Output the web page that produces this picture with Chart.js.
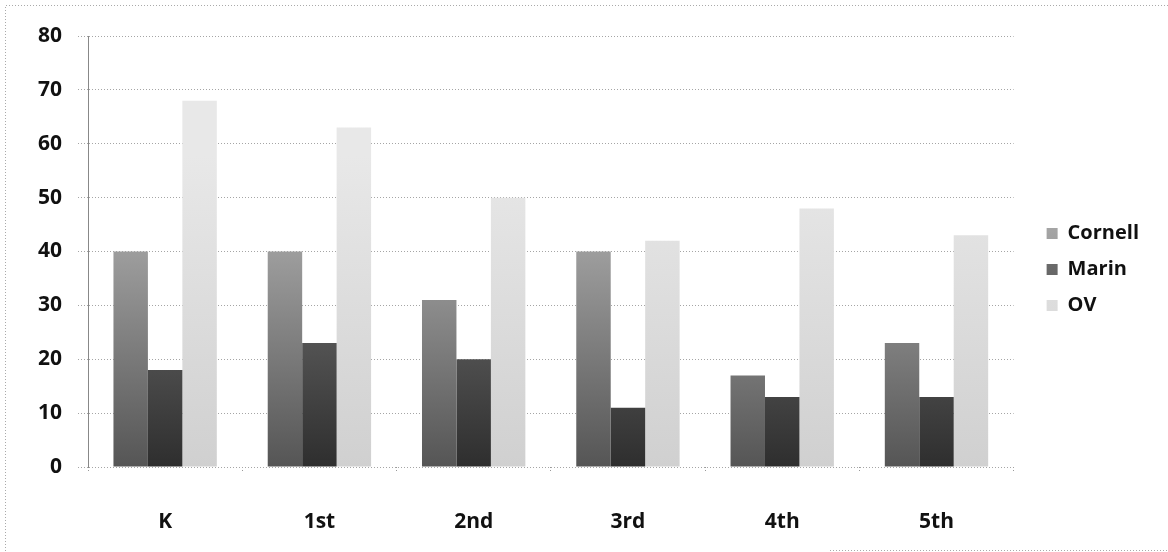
<!DOCTYPE html>
<html>
<head>
<meta charset="utf-8">
<script src="https://cdn.jsdelivr.net/npm/chart.js@4"></script>
<style>
  body { margin: 0; background: #fff; }
  #wrap { width: 1168px; height: 552px; }
</style>
</head>
<body>
<div id="wrap"><canvas id="gradeChart" width="1168" height="552"></canvas></div>
<script>
// values
const grades = ["K", "1st", "2nd", "3rd", "4th", "5th"];
const cornell = [40, 40, 31, 40, 17, 23];
const marin = [18, 23, 20, 11, 13, 13];
const ov = [68, 63, 50, 42, 48, 43];
const yTicks = [0, 10, 20, 30, 40, 50, 60, 70, 80];

// vertical gradient per bar, light at top, dark at bottom
function barGradient(top, bottom) {
  return (c) => {
    const area = c.chart.chartArea;
    if (!area) return bottom;
    const g = c.chart.ctx.createLinearGradient(0, area.top + 120, 0, area.bottom);
    g.addColorStop(0, top);
    g.addColorStop(1, bottom);
    return g;
  };
}

// faint dotted frame like the scanned border
const frame = {
  id: 'frame',
  beforeDraw(chart) {
    const ctx = chart.ctx;
    ctx.save();
    ctx.strokeStyle = '#aaa';
    ctx.setLineDash([1, 2]);
    ctx.lineWidth = 1;
    ctx.beginPath();
    ctx.moveTo(5.5, 551);
    ctx.lineTo(5.5, 5.5);
    ctx.lineTo(1168, 5.5);
    ctx.moveTo(830, 550.5);
    ctx.lineTo(1168, 550.5);
    ctx.stroke();
    ctx.restore();
  }
};

// legend sits a bit above the middle and further right in the original
const legendShift = {
  id: 'legendShift',
  afterLayout(chart) {
    const lg = chart.legend;
    lg.top -= 22;
    lg.bottom -= 22;
    lg.left += 17;
    lg.right += 17;
  }
};

const tickFont = { family: 'Open Sans', size: 21, weight: 'bold' };

const ctx = document.getElementById('gradeChart').getContext('2d');
const gradeChart = new Chart(ctx, {
  type: 'bar',
  data: {
    labels: grades,
    datasets: [
      {
        label: 'Cornell',
        data: cornell,
        backgroundColor: barGradient('#bdbdbd', '#555555')
      },
      {
        label: 'Marin',
        data: marin,
        backgroundColor: barGradient('#8a8a8a', '#2e2e2e')
      },
      {
        label: 'OV',
        data: ov,
        backgroundColor: barGradient('#e8e8e8', '#d0d0d0')
      }
    ]
  },
  options: {
    responsive: false,
    animation: false,
    datasets: {
      bar: { categoryPercentage: 0.67, barPercentage: 1.0 }
    },
    layout: { padding: { top: 36, left: 0, right: 36, bottom: 5 } },
    plugins: {
      tooltip: { enabled: false },
      legend: {
        position: 'right',
        labels: {
          color: '#111',
          font: { family: 'Open Sans', size: 20, weight: 'bold' },
          boxWidth: 11,
          boxHeight: 11,
          padding: 16
        }
      }
    },
    scales: {
      x: {
        afterFit: (axis) => { axis.height = 80; },
        grid: {
          drawOnChartArea: false,
          color: '#999',
          tickLength: 6,
          tickBorderDash: [1, 2]
        },
        border: { display: false },
        ticks: {
          color: '#111',
          padding: 36,
          font: tickFont
        }
      },
      y: {
        min: 0,
        max: 80,
        afterFit: (axis) => { axis.width = 88; },
        afterBuildTicks: (axis) => { axis.ticks = yTicks.map(v => ({ value: v })); },
        grid: { color: '#a5a5a5', tickLength: 10, tickBorderDash: [1, 2] },
        border: { display: true, color: '#888', dash: [1, 2] },
        ticks: {
          color: '#111',
          padding: 16,
          font: tickFont
        }
      }
    }
  },
  plugins: [frame, legendShift]
});

// dotted gridlines
gradeChart.options.scales.y.grid.borderDash = [1, 2];
gradeChart.update();
</script>
</body>
</html>
